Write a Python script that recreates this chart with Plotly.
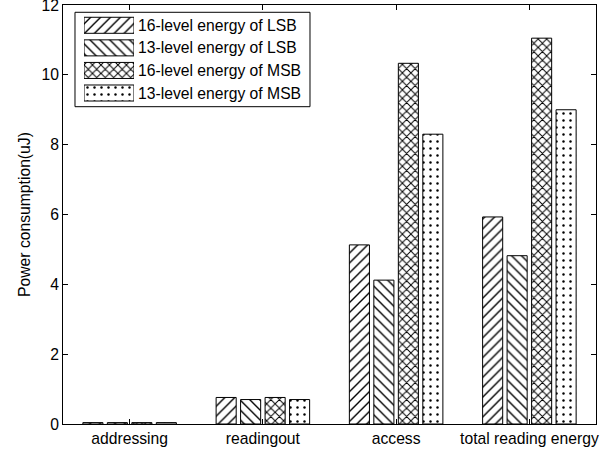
import plotly.graph_objects as go

categories = ["addressing", "readingout", "access", "total reading energy"]
series_names = ["16-level energy of LSB", "13-level energy of LSB",
                "16-level energy of MSB", "13-level energy of MSB"]
lsb16 = [0.04, 0.76, 5.13, 5.93]
lsb13 = [0.04, 0.70, 4.12, 4.82]
msb16 = [0.04, 0.76, 10.33, 11.05]
msb13 = [0.04, 0.70, 8.30, 9.00]
y_ticks = [0, 2, 4, 6, 8, 10, 12]

patterns = ["/", "\\", "x", "."]
pattern_sizes = [7, 7, 6, 7]
pattern_solidity = [0.2, 0.2, 0.3, 0.1]
series = [lsb16, lsb13, msb16, msb13]

FONT = "Liberation Sans, Arial, sans-serif"
FS = 15.7

fig = go.Figure()
for name, vals, pat, sz, so in zip(series_names, series, patterns,
                                   pattern_sizes, pattern_solidity):
    fig.add_trace(go.Bar(
        x=categories, y=vals, name=name, showlegend=False,
        marker=dict(color="white", line=dict(color="black", width=1),
                    pattern=dict(shape=pat, fgcolor="black", bgcolor="white",
                                 fgopacity=1, size=sz, solidity=so)),
    ))

# legend swatches drawn as bars in a small inset axis
fig.add_trace(go.Bar(
    x=[1, 1, 1, 1], y=[0, 1, 2, 3], orientation="h", width=0.71,
    xaxis="x2", yaxis="y2", showlegend=False, hoverinfo="skip",
    marker=dict(color="white", line=dict(color="black", width=1),
                pattern=dict(shape=patterns, fgcolor="black", bgcolor="white",
                             fgopacity=1, size=pattern_sizes,
                             solidity=pattern_solidity)),
))
for i, name in enumerate(series_names):
    fig.add_annotation(x=1, y=i, xref="x2", yref="y2", text=name,
                       showarrow=False, xanchor="left", xshift=2,
                       font=dict(family=FONT, size=FS, color="black"))

fig.add_shape(type="rect", xref="paper", yref="paper",
              x0=0.0225, x1=0.4634, y0=0.7573, y1=0.9826,
              line=dict(color="black", width=1), fillcolor="white", layer="below")

axis_common = dict(showline=True, linecolor="black", linewidth=1, mirror="ticks",
                   ticks="inside", ticklen=5, tickcolor="black",
                   showgrid=False, zeroline=False, automargin=False,
                   tickfont=dict(family=FONT, size=FS, color="black"))

fig.update_layout(
    width=613, height=452,
    margin=dict(l=63, r=17, t=5, b=28),
    paper_bgcolor="white", plot_bgcolor="white",
    barmode="group", bargap=0.265, bargroupgap=0.18,
    font=dict(family=FONT, size=FS, color="black"),
    xaxis=dict(range=[-0.5, 3.5], **axis_common),
    yaxis=dict(range=[0, 12], tickvals=y_ticks, ticklabeloverflow="allow",
               title=dict(text="Power consumption(uJ)", standoff=6,
                          font=dict(family=FONT, size=FS, color="black")),
               **axis_common),
    xaxis2=dict(domain=[0.0394, 0.1332], range=[0, 1], anchor="y2", visible=False,
                fixedrange=True),
    yaxis2=dict(domain=[0.763, 0.9785], range=[3.5, -0.5], anchor="x2", visible=False,
                fixedrange=True),
)

fig.write_html("out.html")
